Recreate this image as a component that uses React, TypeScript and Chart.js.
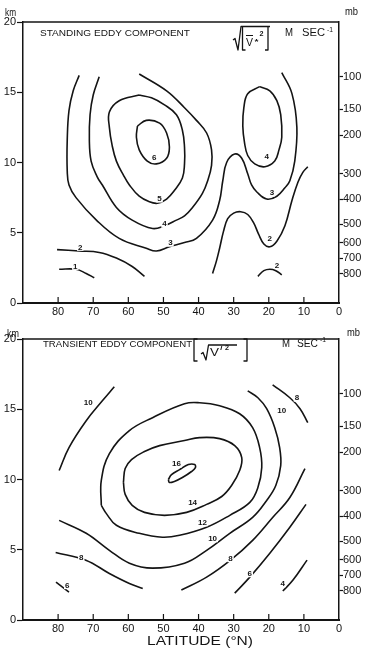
import { useEffect, useRef } from 'react';
import { Chart, registerables } from 'chart.js';

Chart.register(...registerables);

type Pt = [number, number]; // [latitude °N, height km]
type Label = [string, number, number];

const FONT = '"Liberation Sans", Arial, sans-serif';
const INK = '#141414';

// Axes
const latitudeTicks = [80, 70, 60, 50, 40, 30, 20, 10, 0];
const heightTicksKm = [0, 5, 10, 15, 20];
const pressureLevelsMb = [100, 150, 200, 300, 400, 500, 600, 700, 800];
const pressureHeightsKm = [16.1, 13.8, 11.95, 9.2, 7.4, 5.6, 4.3, 3.2, 2.1];

// Standing eddy component, isotachs in m/s
const standing1: Pt[] = [[79.7, 2.4], [74.9, 2.4], [72.0, 2.1], [69.7, 1.8]];
const standing2West: Pt[] = [[80.3, 3.8], [74.0, 3.7], [68.3, 3.6], [63.4, 3.2], [58.9, 2.6], [55.4, 1.9]];
const standing2Arc: Pt[] = [[23.1, 1.9], [21.4, 2.3], [19.7, 2.4], [18.0, 2.3], [16.3, 2.0]];
const standing2East: Pt[] = [
  [36.0, 2.1], [34.9, 3.0], [34.0, 3.9], [32.9, 5.1], [31.7, 6.0], [30.0, 6.4], [28.0, 6.5],
  [26.0, 6.3], [24.3, 5.7], [22.9, 4.9], [21.4, 4.2], [19.7, 4.0], [17.7, 4.4], [15.4, 5.5],
  [13.4, 7.3], [11.7, 8.6], [10.3, 9.3], [8.9, 9.7],
];
const standing3: Pt[] = [
  [74.0, 16.2], [75.7, 15.1], [76.9, 13.7], [77.4, 11.6], [77.4, 9.4], [76.9, 8.4], [74.9, 7.5],
  [69.1, 5.9], [62.6, 4.6], [54.9, 3.9], [52.0, 3.7], [48.3, 4.0], [44.0, 4.3], [40.6, 4.6],
  [36.0, 5.9], [34.0, 7.3], [33.1, 8.7], [32.0, 10.0], [29.7, 10.6], [27.7, 10.3], [26.0, 9.2],
  [24.9, 8.4], [23.4, 7.9], [20.6, 7.4], [17.7, 7.6], [15.4, 8.2], [14.0, 8.7], [12.6, 10.1],
  [12.0, 12.5], [13.4, 14.9], [16.3, 16.4],
];
const standing4West: Pt[] = [
  [68.3, 16.1], [70.0, 14.8], [70.9, 13.4], [71.1, 11.6], [70.6, 10.1], [68.9, 9.0], [67.4, 8.4],
  [63.4, 6.8], [58.9, 5.9], [53.1, 5.3], [49.7, 5.5], [46.3, 5.9], [44.0, 6.2], [41.7, 6.8],
  [38.9, 7.8], [37.4, 8.7], [36.3, 9.8], [36.3, 10.9], [37.7, 12.1], [40.6, 13.0], [44.0, 13.9],
  [49.1, 15.1], [56.9, 16.3],
];
const standing4East: Pt[] = [
  [22.6, 15.4], [19.7, 15.1], [17.7, 14.4], [16.6, 13.4], [16.3, 11.8], [17.1, 10.9], [18.3, 10.1],
  [21.1, 9.7], [24.0, 9.9], [26.0, 10.5], [26.9, 11.4], [27.4, 12.6], [27.1, 13.9], [26.0, 14.9],
  [22.6, 15.4],
];
const standing5: Pt[] = [
  [56.9, 14.8], [62.6, 14.4], [65.4, 13.6], [65.4, 12.5], [64.6, 11.2], [63.4, 10.1], [61.4, 9.1],
  [59.7, 8.4], [56.9, 7.6], [54.0, 7.2], [51.7, 7.1], [49.1, 7.4], [46.9, 8.0], [44.6, 8.9],
  [44.0, 9.9], [44.0, 11.1], [44.6, 12.3], [46.3, 13.4], [49.7, 14.1], [53.4, 14.6], [56.9, 14.8],
];
const standing6: Pt[] = [
  [57.4, 12.6], [54.9, 13.0], [51.1, 12.8], [49.1, 12.1], [48.3, 11.1], [49.1, 10.3], [52.0, 9.9],
  [54.6, 10.1], [56.9, 10.9], [57.7, 11.8], [57.4, 12.6],
];
const standingLabels: Label[] = [
  ['6', 52.6, 10.36], ['5', 51.1, 7.43], ['4', 49.7, 5.64], ['3', 48.0, 4.29],
  ['4', 20.6, 10.43], ['3', 19.1, 7.86], ['2', 19.7, 4.64], ['2', 17.7, 2.71],
  ['2', 73.7, 4.0], ['1', 75.1, 2.64],
];

// Transient eddy component, isotachs in m/s
const transient4: Pt[] = [[16.0, 2.06], [13.1, 2.84], [9.1, 4.26]];
const transient6West: Pt[] = [[80.6, 2.7], [76.9, 1.99]];
const transient6East: Pt[] = [[29.7, 1.91], [25.4, 3.05], [19.7, 4.75], [14.0, 6.6], [9.4, 8.23]];
const transient8West: Pt[] = [[80.7, 4.8], [72.1, 4.26], [65.4, 3.31], [59.7, 2.6], [55.9, 2.25]];
const transient8East: Pt[] = [
  [44.9, 2.13], [37.7, 3.05], [30.9, 4.26], [24.6, 5.67], [18.9, 7.3], [14.0, 8.72], [9.7, 10.78],
];
const transient8North: Pt[] = [[18.9, 16.74], [14.0, 15.82], [11.1, 15.04], [8.9, 14.04]];
const transient10West: Pt[] = [[79.7, 10.64], [76.9, 12.27], [72.0, 14.18], [67.4, 15.6], [64.0, 16.6]];
const transient10: Pt[] = [
  [79.7, 7.09], [72.0, 6.17], [65.4, 4.96], [59.7, 4.04], [53.1, 3.69], [44.0, 4.04], [37.7, 4.96],
  [31.1, 6.17], [24.6, 7.3], [20.6, 8.51], [18.0, 9.57], [16.6, 10.99], [16.9, 12.27], [18.3, 13.69],
  [20.6, 15.04], [23.1, 15.82], [26.0, 16.31],
];
const transient12: Pt[] = [
  [67.7, 8.16], [67.7, 9.93], [65.4, 11.84], [59.7, 13.48], [53.1, 14.4], [44.0, 15.39], [39.7, 15.46],
  [34.0, 15.25], [28.3, 14.68], [24.6, 13.69], [22.6, 12.27], [22.0, 10.85], [23.1, 9.43], [25.4, 8.37],
  [31.1, 7.45], [37.7, 6.6], [45.4, 6.03], [50.3, 5.89], [56.9, 6.17], [63.4, 6.74], [66.3, 7.59],
  [67.7, 8.16],
];
const transient14: Pt[] = [
  [61.4, 9.79], [60.9, 10.78], [59.1, 11.42], [55.4, 11.99], [51.1, 12.41], [44.0, 12.77], [39.7, 12.98],
  [34.0, 12.91], [29.7, 12.41], [27.7, 11.56], [28.3, 10.64], [30.6, 9.57], [33.4, 8.79], [37.7, 8.23],
  [43.4, 7.66], [49.7, 7.45], [55.4, 7.66], [58.9, 8.16], [60.9, 8.94], [61.4, 9.79],
];
const transient16: Pt[] = [
  [48.6, 10.0], [47.7, 10.35], [45.4, 10.7], [42.9, 11.06], [41.1, 11.06], [40.9, 10.85], [42.0, 10.57],
  [44.6, 10.14], [46.9, 9.86], [48.3, 9.79], [48.6, 10.0],
];
const transientLabels: Label[] = [
  ['16', 46.3, 11.13], ['14', 41.7, 8.37], ['12', 38.9, 6.95], ['10', 36.0, 5.82],
  ['8', 30.9, 4.4], ['6', 25.4, 3.33], ['4', 16.0, 2.62], ['8', 73.4, 4.47], ['6', 77.4, 2.48],
  ['10', 71.4, 15.46], ['10', 16.3, 14.89], ['8', 12.0, 15.82],
];

type Ctx = CanvasRenderingContext2D;

function fitText(ctx: Ctx, text: string, x: number, y: number, width: number, size: number, weight = '') {
  ctx.save();
  ctx.font = `${weight} ${size}px ${FONT}`;
  ctx.textBaseline = 'middle';
  ctx.textAlign = 'left';
  ctx.fillStyle = INK;
  const w = ctx.measureText(text).width;
  ctx.translate(x, y);
  ctx.scale(width / w, 1);
  ctx.fillText(text, 0, 0);
  ctx.restore();
}

function strokePath(ctx: Ctx, pts: number[][], lw = 1.3) {
  ctx.save();
  ctx.strokeStyle = INK;
  ctx.lineWidth = lw;
  ctx.lineJoin = 'round';
  ctx.beginPath();
  pts.forEach(([x, y], i) => (i ? ctx.lineTo(x, y) : ctx.moveTo(x, y)));
  ctx.stroke();
  ctx.restore();
}

function drawStandingHeader(ctx: Ctx) {
  fitText(ctx, 'km', 5, 13, 11, 10);
  fitText(ctx, 'mb', 345, 12, 13, 10);
  fitText(ctx, 'STANDING EDDY COMPONENT', 40, 33, 150, 9.5);
  // √[ v̄*² ]
  strokePath(ctx, [[233, 40], [235, 38.5], [238, 50], [241, 26.5], [270, 26.5]]);
  strokePath(ctx, [[242.5, 27], [242.5, 50], [245.5, 50]]);
  strokePath(ctx, [[268, 27], [268, 50], [265, 50]]);
  fitText(ctx, 'V', 246, 43, 7, 10);
  strokePath(ctx, [[246, 35.5], [253, 35.5]], 1);
  fitText(ctx, '*', 254.5, 42, 4, 8, 'bold');
  fitText(ctx, '2', 259.5, 34, 4, 7, 'bold');
  fitText(ctx, 'M', 285, 33, 8, 10);
  fitText(ctx, 'SEC', 302, 33, 23, 10);
  fitText(ctx, '-1', 327, 30, 6, 7);
}

function drawTransientHeader(ctx: Ctx) {
  fitText(ctx, 'km', 7, 9, 12, 10);
  fitText(ctx, 'mb', 347, 8, 13, 10);
  fitText(ctx, 'TRANSIENT EDDY COMPONENT', 43, 19, 149, 9.5);
  // [ √v'² ]
  strokePath(ctx, [[197.5, 14], [194, 14], [194, 36], [197.5, 36]]);
  strokePath(ctx, [[243.5, 14], [247, 14], [247, 36], [243.5, 36]]);
  strokePath(ctx, [[201, 29], [203, 27.5], [206, 35], [208.5, 20], [237, 20]]);
  fitText(ctx, 'V', 210, 28, 9, 10);
  strokePath(ctx, [[221.8, 21], [220.8, 25]], 1);
  fitText(ctx, '2', 225, 23, 4, 7, 'bold');
  fitText(ctx, 'M', 282, 19, 8, 10);
  fitText(ctx, 'SEC', 297, 19, 21, 10);
  fitText(ctx, '-1', 320, 15, 6, 7);
  fitText(ctx, 'LATITUDE (°N)', 147, 317, 106, 12);
}

interface Panel {
  contours: Pt[][];
  labels: Label[];
  plotTop: number;
  axisHeight: number;
  header: (ctx: Ctx) => void;
}

const standingPanel: Panel = {
  contours: [standing1, standing2West, standing2Arc, standing2East, standing3, standing4West, standing4East, standing5, standing6],
  labels: standingLabels,
  plotTop: 22,
  axisHeight: 22,
  header: drawStandingHeader,
};

const transientPanel: Panel = {
  contours: [
    transient4, transient6West, transient6East, transient8West, transient8East, transient8North,
    transient10West, transient10, transient12, transient14, transient16,
  ],
  labels: transientLabels,
  plotTop: 14,
  axisHeight: 29,
  header: drawTransientHeader,
};

function decorPlugin(p: Panel) {
  return {
    id: 'decor',
    afterDatasetsDraw(chart: any) {
      const { ctx, scales } = chart;
      ctx.save();
      ctx.font = `bold 8px ${FONT}`;
      ctx.textAlign = 'center';
      ctx.textBaseline = 'middle';
      for (const [t, lat, km] of p.labels) {
        const px = scales.x.getPixelForValue(lat);
        const py = scales.y.getPixelForValue(km);
        const w = ctx.measureText(t).width;
        ctx.fillStyle = '#fff';
        ctx.fillRect(px - w / 2 - 1, py - 4, w + 2, 8);
        ctx.fillStyle = INK;
        ctx.fillText(t, px, py + 0.5);
      }
      ctx.restore();
    },
    afterDraw(chart: any) {
      const { ctx, chartArea, scales } = chart;
      strokePath(ctx, [[chartArea.left, chartArea.top], [chartArea.right, chartArea.top]], 1.5);
      for (const v of latitudeTicks) {
        if (v === 0) continue;
        const x = scales.x.getPixelForValue(v);
        strokePath(ctx, [[x, chartArea.bottom], [x, chartArea.bottom - 6]], 1.2);
      }
      p.header(ctx);
    },
  };
}

const tickFont = { family: FONT, size: 11 };

function buildPanel(canvas: HTMLCanvasElement, p: Panel) {
  const datasets = p.contours.map((c) => ({
    data: c.map(([lat, km]) => ({ x: lat, y: km })),
    borderColor: INK,
    borderWidth: 1.6,
    pointRadius: 0,
    tension: 0.4,
    fill: false,
    xAxisID: 'x',
    yAxisID: 'y',
  }));
  return new Chart(canvas, {
    type: 'line',
    data: { datasets },
    options: {
      animation: false,
      responsive: false,
      devicePixelRatio: 1,
      events: [],
      layout: { padding: { top: p.plotTop, left: 0, right: 0, bottom: 0 } },
      plugins: { legend: { display: false }, tooltip: { enabled: false } },
      scales: {
        x: {
          type: 'linear',
          min: 0,
          max: 90,
          reverse: true,
          afterBuildTicks: (s: any) => {
            s.ticks = latitudeTicks.map((v) => ({ value: v }));
          },
          afterFit: (s: any) => {
            s.height = p.axisHeight;
          },
          ticks: { font: tickFont, color: INK, padding: 2, maxRotation: 0, autoSkip: false },
          grid: { display: false, drawTicks: false },
          border: { display: true, color: INK, width: 2 },
        },
        y: {
          type: 'linear',
          position: 'left',
          min: 0,
          max: 20,
          afterBuildTicks: (s: any) => {
            s.ticks = heightTicksKm.map((v) => ({ value: v }));
          },
          afterFit: (s: any) => {
            s.width = 23;
          },
          ticks: { font: tickFont, color: INK, padding: 1, autoSkip: false },
          grid: { display: true, drawOnChartArea: false, drawTicks: true, tickLength: 6, color: INK, tickColor: INK, tickWidth: 1.2 },
          border: { display: true, color: INK, width: 1.5 },
        },
        y2: {
          type: 'linear',
          position: 'right',
          min: 0,
          max: 20,
          afterBuildTicks: (s: any) => {
            s.ticks = pressureHeightsKm.map((v) => ({ value: v }));
          },
          afterFit: (s: any) => {
            s.width = 26;
          },
          ticks: {
            font: tickFont,
            color: INK,
            padding: 0,
            autoSkip: false,
            callback: (_v: any, i: number) => String(pressureLevelsMb[i]),
          },
          grid: { display: true, drawOnChartArea: false, drawTicks: true, tickLength: 4, color: INK, tickColor: INK, tickWidth: 1.2 },
          border: { display: true, color: INK, width: 1.5 },
        },
      },
    } as any,
    plugins: [decorPlugin(p)],
  });
}

export default function App() {
  const topRef = useRef<HTMLCanvasElement>(null);
  const bottomRef = useRef<HTMLCanvasElement>(null);

  useEffect(() => {
    const a = buildPanel(topRef.current!, standingPanel);
    const b = buildPanel(bottomRef.current!, transientPanel);
    return () => {
      a.destroy();
      b.destroy();
    };
  }, []);

  return (
    <div style={{ position: 'absolute', left: 0, top: 0, width: 365, height: 649, background: '#fff' }}>
      <canvas ref={topRef} width={365} height={325} style={{ display: 'block', width: 365, height: 325 }} />
      <canvas ref={bottomRef} width={365} height={324} style={{ display: 'block', width: 365, height: 324 }} />
    </div>
  );
}
